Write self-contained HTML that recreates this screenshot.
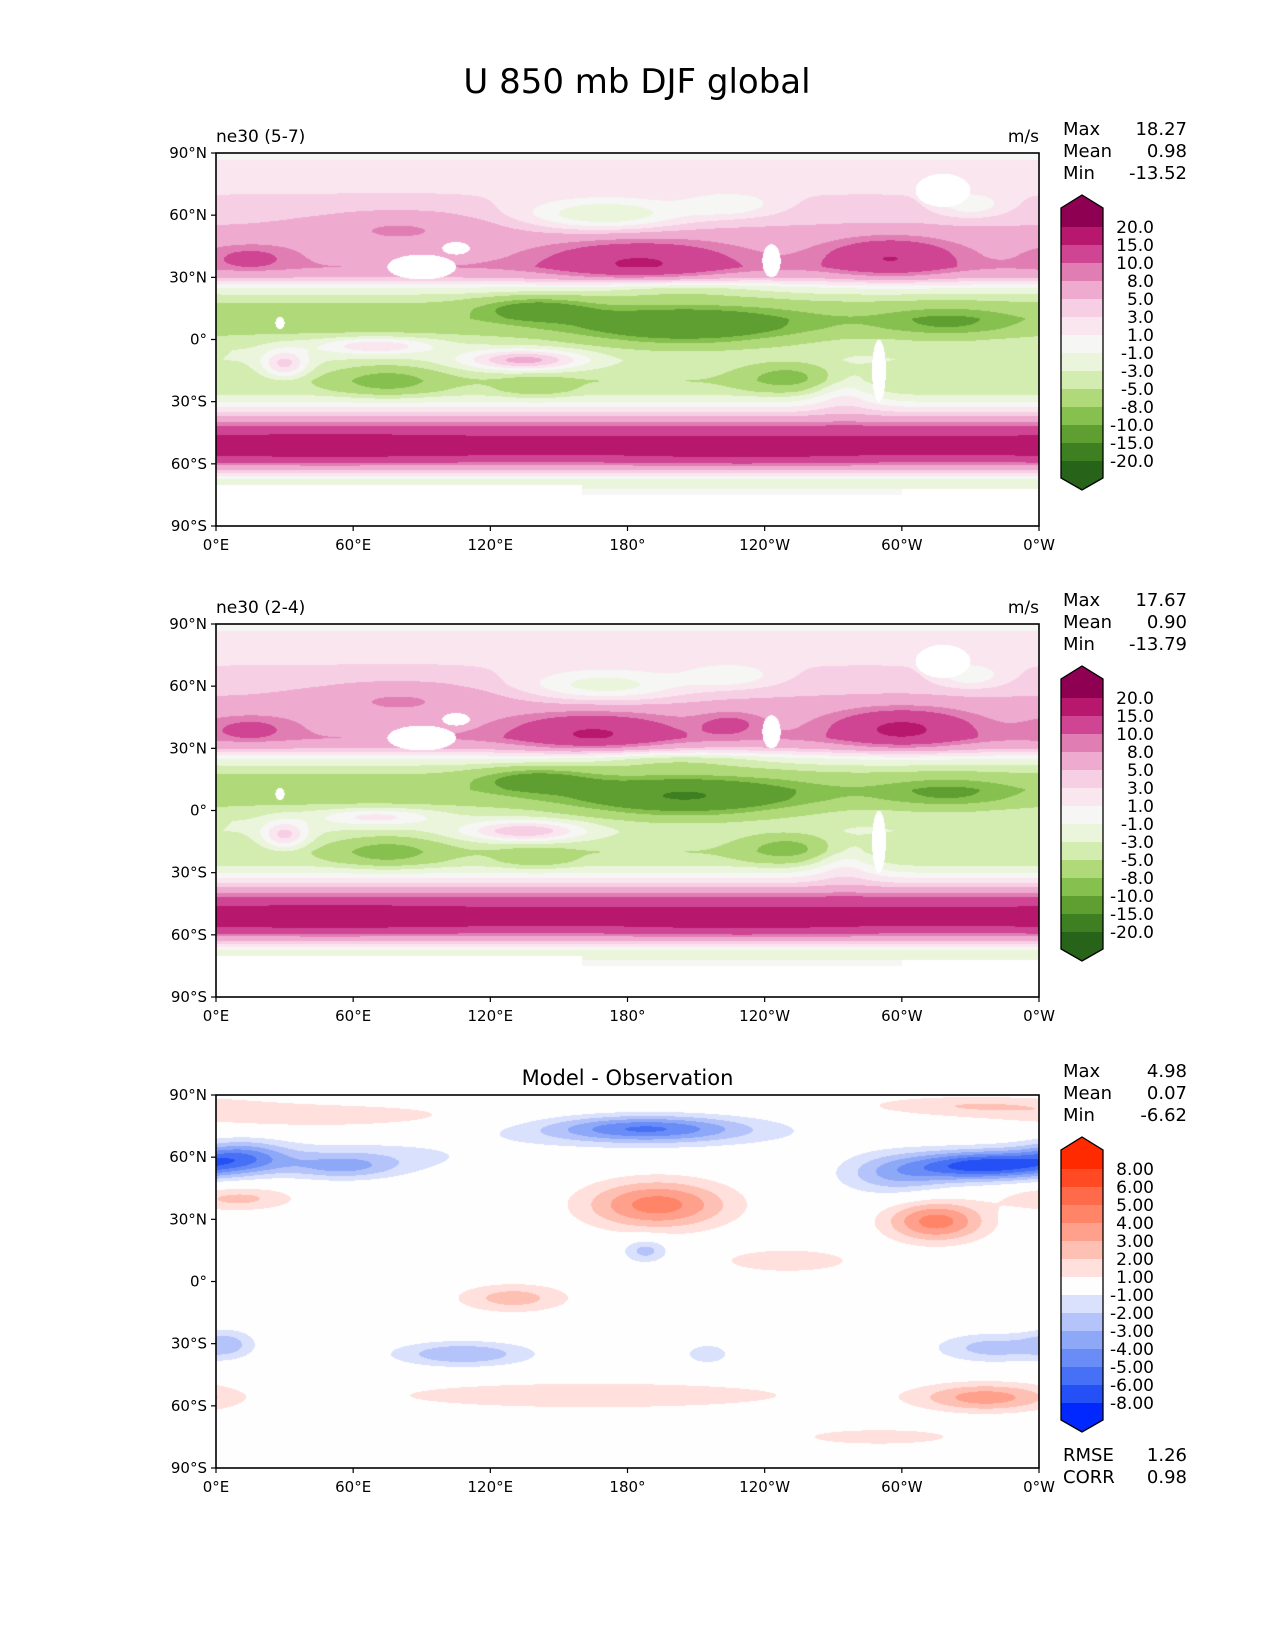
<!DOCTYPE html>
<html><head><meta charset="utf-8">
<style>
html,body{margin:0;padding:0;background:#fff;}
#fig{position:relative;width:1275px;height:1650px;overflow:hidden;font-family:"DejaVu Sans","Liberation Sans",sans-serif;}
canvas{position:absolute;}
svg{position:absolute;left:0;top:0;}
</style></head>
<body>
<div id="fig">
<canvas id="c1" width="823" height="373" style="left:216px;top:153px"></canvas>
<canvas id="c2" width="823" height="373" style="left:216px;top:624px"></canvas>
<canvas id="c3" width="823" height="373" style="left:216px;top:1095px"></canvas>
<svg id="ov" width="1275" height="1650">
<text x="637" y="93" font-size="34" text-anchor="middle">U 850 mb DJF global</text>
</svg>
</div>
<script>
// ---- data ----
const zonalLats = [90,80,70,60,50,40,35,30,25,20,15,10,5,0,-5,-10,-15,-20,-25,-30,-35,-40,-45,-50,-55,-60,-65,-68,-72,-80,-90];
const zonalU1  = [0.5,2,3,4,6,7,8,5,-1,-4,-6,-7,-6,-4,-3,-3,-4,-5,-4,-1,3,8,14,17,16,9,2,-2,-1,0,0];
const zonalU2  = [0.5,2,3,4,6,7,8,5,-1,-4,-6,-7,-6,-4,-3,-3,-4,-5,-4,-1,3,8,14,17,16,9,2,-2,-1,0,0];
const zonalDiff= [0,0,0,0,0,0,0,0,0,0,0,0,0,0,0,0,0,0,0,0,0,0,0,0,0,0,0,0,0,0,0];
// blobs: [lon, lat, lonRadius, latRadius, amplitude]
const blobs1 = [[185,38,40,10,8],[295,40,28,9,8],[15,40,20,6,4],[80,55,40,8,3],[170,60,35,8,-7],[225,65,20,6,-4],[135,-10,25,5,9],[30,-12,10,7,7],
  [70,-3,25,4,6],[205,6,50,10,-8],[140,15,25,6,-6],[250,-18,20,7,-5],[320,8,30,8,-4],[75,-20,22,7,-5],[140,-23,15,5,-3],[275,-25,15,10,4],
  [200,25,40,5,-3],[330,65,15,6,-4],[50,-52,50,5,3],[230,-55,40,5,2]];
const blobs2 = [[165,38,35,9,8],[225,42,15,6,4],[300,40,30,9,9],[15,40,20,6,4],[80,55,40,8,3],[170,60,35,8,-6],[225,65,20,6,-4],[135,-10,25,5,8],[30,-12,10,7,7],
  [70,-3,25,4,5],[205,6,50,10,-9],[140,15,25,6,-6],[250,-18,20,7,-5],[320,8,30,8,-4],[75,-20,22,7,-5],[140,-23,15,5,-3],[275,-25,15,10,4],
  [200,25,40,5,-3],[330,65,15,6,-4],[50,-52,50,5,3],[230,-55,40,5,2]];
const blobsDiff = [[193,37,32,12,4.5],[315,29,22,10,4.5],[337,56,30,7,-6.5],[298,52,25,10,-3],[188,74,40,6,-3.5],[188,72,70,8,-1.8],
  [11,60,20,8,-3.5],[55,55,25,6,-2.5],[60,60,60,8,-1.5],[46,80,70,6,1.8],[330,85,50,5,1.8],[10,40,25,6,2.3],[188,15,10,6,-2.5],[130,-8,25,7,2.5],
  [108,-35,30,6,-3],[165,-55,100,7,1.9],[337,-56,30,7,3.5],[340,-32,25,7,-2.5],[5,-30,12,7,-2],[250,10,30,6,1.9],[290,-75,35,4,1.9],[215,-35,10,5,-1.8]];
// white (missing) regions: [lon, lat, lonRadius, latRadius]
const masks = [[90,35,15,6],[105,44,6,3],[243,38,4,8],[318,72,12,8],[290,-15,3,15],[28,8,2,3]];
const levelsU = [-20,-15,-10,-8,-5,-3,-1,1,3,5,8,10,15,20];
const colorsU = ['#276419','#3d7f21','#5f9e30','#86c04f','#b0d97a','#d3ecb0','#ebf5dc','#f6f6f4','#fae6ef','#f7cfe4','#efaad0','#e07eb4','#cf4593','#b8176e','#8e0152'];
const tickU = ['20.0','15.0','10.0','8.0','5.0','3.0','1.0','-1.0','-3.0','-5.0','-8.0','-10.0','-15.0','-20.0'];
const levelsD = [-8,-6,-5,-4,-3,-2,-1,1,2,3,4,5,6,8];
const colorsD = ['#0028ff','#2550f5','#4670f5','#6a8cf7','#8ea8f8','#b4c3fa','#d9e1fd','#fefefe','#ffe0dc','#ffc0b4','#ffa08c','#ff8468','#ff6a4a','#ff4a24','#ff2a00'];
const tickD = ['8.00','6.00','5.00','4.00','3.00','2.00','1.00','-1.00','-2.00','-3.00','-4.00','-5.00','-6.00','-8.00'];
const stats1 = ['18.27','0.98','-13.52'];
const stats2 = ['17.67','0.90','-13.79'];
const stats3 = ['4.98','0.07','-6.62'];
const latTicks = ['90°N','60°N','30°N','0°','30°S','60°S','90°S'];
const lonTicks = ['0°E','60°E','120°E','180°','120°W','60°W','0°W'];

// ---- geometry ----
const AX=216, AW=823, AH=373, TOPS=[153,624,1095];
function hex(c){return [parseInt(c.substr(1,2),16),parseInt(c.substr(3,2),16),parseInt(c.substr(5,2),16)];}
function zonal(lats,vals,lat){
  for(let i=0;i<lats.length-1;i++){ if(lat<=lats[i]&&lat>=lats[i+1]){const t=(lats[i]-lat)/(lats[i]-lats[i+1]);return vals[i]+(vals[i+1]-vals[i])*t;} }
  return 0;
}
function antLat(lon){ if(lon<160) return -70; if(lon<300) return -75; return -72; }
function drawMap(id,zv,blobs,levels,colors,useMask){
  const cv=document.getElementById(id), ctx=cv.getContext('2d');
  const img=ctx.createImageData(AW,AH); const cols=colors.map(hex);
  for(let py=0;py<AH;py++){
    const lat=90-(py+0.5)/AH*180; const base=zonal(zonalLats,zv,lat);
    for(let px=0;px<AW;px++){
      const lon=(px+0.5)/AW*360; let v=base;
      for(const b of blobs){ let dl=Math.abs(lon-b[0]); if(dl>180) dl=360-dl; const q=(dl/b[2])**2+((lat-b[1])/b[3])**2; if(q<9) v+=b[4]*Math.exp(-q); }
      let c; let white=false;
      if(useMask){ if(lat<antLat(lon)) white=true;
        for(const m of masks){ let dl=Math.abs(lon-m[0]); if(dl>180) dl=360-dl; if((dl/m[2])**2+((lat-m[1])/m[3])**2<1) white=true; } }
      if(white) c=[255,255,255];
      else { let k=0; while(k<levels.length&&v>levels[k]) k++; c=cols[k]; }
      const o=(py*AW+px)*4; img.data[o]=c[0];img.data[o+1]=c[1];img.data[o+2]=c[2];img.data[o+3]=255;
    }
  }
  ctx.putImageData(img,0,0);
}
drawMap('c1',zonalU1,blobs1,levelsU,colorsU,true);
drawMap('c2',zonalU2,blobs2,levelsU,colorsU,true);
drawMap('c3',zonalDiff,blobsDiff,levelsD,colorsD,false);

const NS='http://www.w3.org/2000/svg', ov=document.getElementById('ov');
function el(tag,attrs,txt){const e=document.createElementNS(NS,tag);for(const k in attrs)e.setAttribute(k,attrs[k]);if(txt!==undefined)e.textContent=txt;ov.appendChild(e);return e;}
function panel(p,top,title,center,stats,colors,ticks,extra){
  const f=el('rect',{x:AX,y:top,width:AW,height:AH,fill:'none',stroke:'#000','stroke-width':1.6});
  
  
  for(let i=0;i<latTicks.length;i++){
    const y=top+i*AH/6;
    el('line',{x1:AX-5,y1:y,x2:AX,y2:y,stroke:'#000','stroke-width':1.2});
    const t=el('text',{x:AX-9,y:y+5,'font-size':15,'text-anchor':'end'},latTicks[i]);
    
    
  }
  for(let i=0;i<lonTicks.length;i++){
    const x=AX+i*AW/6;
    el('line',{x1:x,y1:top+AH,x2:x,y2:top+AH+5,stroke:'#000','stroke-width':1.2});
    const t=el('text',{x:x,y:top+AH+24,'font-size':15,'text-anchor':'middle'},lonTicks[i]);
    
    
  }
  let tt;
  if(center) tt=el('text',{x:AX+AW/2,y:top-10,'font-size':21,'text-anchor':'middle'},title);
  else { tt=el('text',{x:AX,y:top-11,'font-size':17},title);
    const u=el('text',{x:AX+AW,y:top-11,'font-size':17,'text-anchor':'end'},'m/s');
    
     }
  
  
  const names=['Max','Mean','Min'];
  for(let i=0;i<3;i++){
    const yb=top-18+i*22;
    const a=el('text',{x:1063,y:yb,'font-size':18},names[i]);
    
    
    const b=el('text',{x:1187,y:yb,'font-size':18,'text-anchor':'end'},stats[i]);
    
    
  }
  const cx0=1061,cx1=1103,cmid=1082,b0=top+74,seg=18,n=ticks.length;
  const tip0=top+42, tip1=b0+(n-1)*seg+29;
  el('polygon',{points:`${cx0},${b0-19} ${cmid},${tip0} ${cx1},${b0-19} ${cx1},${b0} ${cx0},${b0}`,fill:colors[colors.length-1]});
  for(let k=0;k<n-1;k++){
    el('rect',{x:cx0,y:b0+k*seg,width:cx1-cx0,height:seg+0.5,fill:colors[colors.length-2-k]});
  }
  const be=b0+(n-1)*seg;
  el('polygon',{points:`${cx0},${be} ${cx1},${be} ${cx1},${be+17} ${cmid},${tip1} ${cx0},${be+17}`,fill:colors[0]});
  const cb=el('polygon',{points:`${cx0},${b0-19} ${cmid},${tip0} ${cx1},${b0-19} ${cx1},${be+17} ${cmid},${tip1} ${cx0},${be+17}`,fill:'none',stroke:'#000','stroke-width':1.3});
  
  
  for(let k=0;k<n;k++){
    const t=el('text',{x:1154,y:b0+k*seg+6,'font-size':17,'text-anchor':'end'},ticks[k]);
    
    
  }
  if(extra){
    for(let i=0;i<extra.length;i++){
      const a=el('text',{x:1063,y:top+AH-7+i*22,'font-size':18},extra[i][0]);
      
      
      const b=el('text',{x:1187,y:top+AH-7+i*22,'font-size':18,'text-anchor':'end'},extra[i][1]);
      
      
    }
  }
}
panel(1,TOPS[0],'ne30 (5-7)',false,stats1,colorsU,tickU);
panel(2,TOPS[1],'ne30 (2-4)',false,stats2,colorsU,tickU);
panel(3,TOPS[2],'Model - Observation',true,stats3,colorsD,tickD,[['RMSE','1.26'],['CORR','0.98']]);
</script>
</body></html>
